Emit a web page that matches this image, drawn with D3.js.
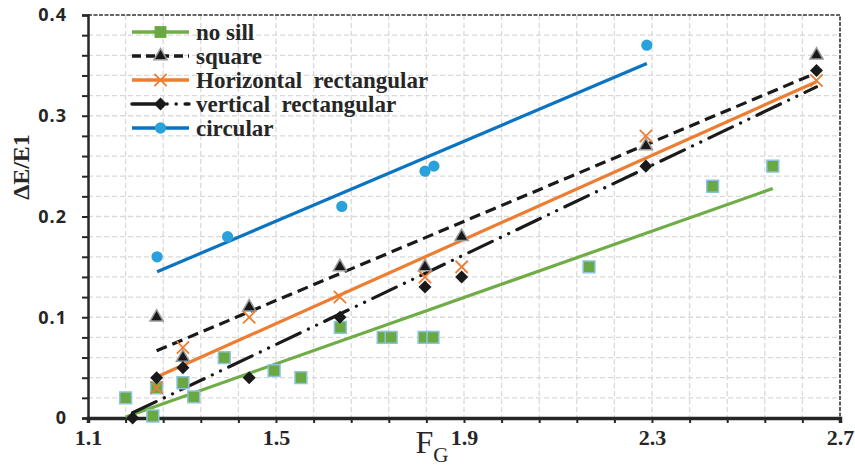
<!DOCTYPE html>
<html>
<head>
<meta charset="utf-8">
<script src="https://cdn.jsdelivr.net/npm/d3@7/dist/d3.min.js"></script>
<style>
  body { margin: 0; background: #fff; }
  svg text { fill: #262626; }
</style>
</head>
<body>
<div id="chart"></div>
<script>
/* global d3 */

// values
const fgNoSill = [1.18, 1.238, 1.246, 1.302, 1.325, 1.39, 1.496, 1.553, 1.637, 1.728, 1.745, 1.815, 1.834, 2.166, 2.429, 2.557]
const noSill = [0.02, 0.002, 0.03, 0.035, 0.021, 0.06, 0.047, 0.04, 0.09, 0.08, 0.08, 0.08, 0.08, 0.15, 0.23, 0.25]

const fgSquare = [1.246, 1.302, 1.443, 1.636, 1.817, 1.895, 2.287, 2.65]
const square = [0.10, 0.06, 0.11, 0.15, 0.15, 0.18, 0.27, 0.36]

const fgHoriz = [1.246, 1.302, 1.443, 1.636, 1.817, 1.895, 2.287, 2.65]
const horizRect = [0.03, 0.07, 0.10, 0.12, 0.14, 0.15, 0.28, 0.335]

const fgVert = [1.195, 1.246, 1.302, 1.443, 1.636, 1.817, 1.895, 2.287, 2.65]
const vertRect = [0, 0.04, 0.05, 0.04, 0.10, 0.13, 0.14, 0.25, 0.345]

const fgCircular = [1.247, 1.397, 1.64, 1.817, 1.836, 2.289]
const circular = [0.16, 0.18, 0.21, 0.245, 0.25, 0.37]

const seriesNames = ['no sill', 'square', 'Horizontal  rectangular', 'vertical  rectangular', 'circular']

const xTicks = [1.1, 1.5, 1.9, 2.3, 2.7]
const xTickLabels = ['1.1', '1.5', '1.9', '2.3', '2.7']
const yTicks = [0, 0.1, 0.2, 0.3, 0.4]
const yTickLabels = ['0', '0.1', '0.2', '0.3', '0.4']

// canvas
const width = 855,
  height = 468,
  plotLeft = 88,
  plotRight = 840,
  plotTop = 15,
  plotBottom = 418

const serif = '"Liberation Serif", "Times New Roman", serif'
const sans = '"Open Sans", "Liberation Sans", sans-serif'

let svg = d3.select('#chart')
  .append('svg')
  .attr('width', width)
  .attr('height', height)

const x = d3.scaleLinear().domain([1.1, 2.7]).range([plotLeft, plotRight])
const y = d3.scaleLinear().domain([0, 0.4]).range([plotBottom, plotTop])

// minor units: 0.08 on x, 0.02 on y
const xMinor = d3.range(0, 21).map(i => +(1.1 + i * 0.08).toFixed(2))
const yMinor = d3.range(0, 21).map(i => +(i * 0.02).toFixed(2))

// gridlines
svg.append('g').selectAll('line')
  .data(xMinor.slice(1, -1))
  .enter().append('line')
  .attr('x1', d => x(d)).attr('x2', d => x(d))
  .attr('y1', plotTop).attr('y2', plotBottom)
  .attr('stroke', '#d9d9d9').attr('stroke-width', 1.3)
  .attr('stroke-dasharray', '5,3')

svg.append('g').selectAll('line')
  .data(yMinor.slice(1, -1))
  .enter().append('line')
  .attr('x1', plotLeft).attr('x2', plotRight)
  .attr('y1', d => y(d)).attr('y2', d => y(d))
  .attr('stroke', '#d9d9d9').attr('stroke-width', 1.3)
  .attr('stroke-dasharray', '5,3')

// dashed frame top and right
svg.append('path')
  .attr('d', `M${plotLeft},${plotTop}H${plotRight}V${plotBottom}`)
  .attr('fill', 'none')
  .attr('stroke', '#333')
  .attr('stroke-width', 1.6)
  .attr('stroke-dasharray', '4,1.5')

let labelOf = (ticks, labels) => d => {
  let i = ticks.findIndex(v => Math.abs(v - d) < 1e-9)
  return i >= 0 ? labels[i] : ''
}

// axes
let xAxis = svg.append('g')
  .attr('transform', `translate(0, ${plotBottom})`)
  .style('color', '#262626')
  .call(d3.axisBottom(x).tickValues(xMinor).tickSize(5).tickPadding(6)
    .tickFormat(labelOf(xTicks, xTickLabels)))
xAxis.select('.domain').attr('stroke-width', 3.5)
xAxis.selectAll('.tick line').attr('stroke-width', 2)
xAxis.selectAll('text')
  .style('font-family', serif).style('font-weight', 'bold').style('font-size', '22px')

let yAxis = svg.append('g')
  .attr('transform', `translate(${plotLeft}, 0)`)
  .style('color', '#262626')
  .call(d3.axisLeft(y).tickValues(yMinor).tickSize(6).tickPadding(15)
    .tickFormat(labelOf(yTicks, yTickLabels)))
yAxis.select('.domain').attr('stroke-width', 2.5)
yAxis.selectAll('.tick line').attr('stroke-width', 2)
yAxis.selectAll('text')
  .style('font-family', sans).style('font-weight', 'bold').style('font-size', '18px')
  .style('letter-spacing', '1px')

// axis titles
svg.append('text')
  .attr('transform', 'translate(29, 167) rotate(-90)')
  .attr('text-anchor', 'middle')
  .style('font-family', serif).style('font-weight', 'bold').style('font-size', '24px')
  .text('ΔE/E1')

let fg = svg.append('text')
  .attr('x', 432).attr('y', 453)
  .attr('text-anchor', 'middle')
  .style('font-family', serif).style('font-size', '32px')
fg.append('tspan').text('F')
fg.append('tspan').attr('dy', 9).style('font-size', '21px').text('G')

// least squares trendline over the series x range
let trend = (xs, ys) => {
  let mx = d3.mean(xs), my = d3.mean(ys)
  let sxy = d3.sum(xs, (v, i) => (v - mx) * (ys[i] - my))
  let sxx = d3.sum(xs, v => (v - mx) * (v - mx))
  let b = sxy / sxx, a = my - b * mx
  let x0 = d3.min(xs), x1 = d3.max(xs)
  return [[x0, a + b * x0], [x1, a + b * x1]]
}

const series = [
  { name: seriesNames[0], xs: fgNoSill, ys: noSill, color: '#70ad47', dash: null,
    marker: d3.symbolSquare, size: 140, fill: '#6aa843', stroke: '#8cc4dc', sw: 1.5 },
  { name: seriesNames[1], xs: fgSquare, ys: square, color: '#1a1a1a', dash: '11,6',
    marker: d3.symbolTriangle, size: 75, fill: '#1a1a1a', stroke: '#9a9a9a', sw: 1.5 },
  { name: seriesNames[2], xs: fgHoriz, ys: horizRect, color: '#ed7d31', dash: null,
    marker: d3.symbolTimes, size: 100, fill: 'none', stroke: '#ed7d31', sw: 1.8 },
  { name: seriesNames[3], xs: fgVert, ys: vertRect, color: '#1a1a1a', dash: '26,9,0.1,9,0.1,9',
    marker: d3.symbolSquare, size: 85, fill: '#1a1a1a', stroke: 'none', sw: 0, rot: 45 },
  { name: seriesNames[4], xs: fgCircular, ys: circular, color: '#0a74c2', dash: null,
    marker: d3.symbolCircle, size: 100, fill: '#29a2dc', stroke: 'none', sw: 0 }
]

let line = d3.line().x(d => x(d[0])).y(d => y(d[1]))

series.forEach(s => {
  svg.append('path')
    .datum(trend(s.xs, s.ys))
    .attr('d', line)
    .attr('fill', 'none')
    .attr('stroke', s.color)
    .attr('stroke-width', 3.2)
    .attr('stroke-linecap', s.dash && s.dash.includes('0.1') ? 'round' : 'butt')
    .attr('stroke-dasharray', s.dash)
})

series.forEach(s => {
  svg.append('g').selectAll('path')
    .data(s.xs.map((v, i) => [v, s.ys[i]]))
    .enter().append('path')
    .attr('d', d3.symbol().type(s.marker).size(s.size))
    .attr('transform', d => `translate(${x(d[0])}, ${y(d[1])}) rotate(${s.rot || 0})`)
    .attr('fill', s.fill)
    .attr('stroke', s.stroke)
    .attr('stroke-width', s.sw)
})

// legend
let legend = svg.append('g')
series.forEach((s, i) => {
  let ly = 32 + i * 24
  legend.append('line')
    .attr('x1', 132).attr('x2', 189).attr('y1', ly).attr('y2', ly)
    .attr('stroke', s.color).attr('stroke-width', 3.5)
    .attr('stroke-linecap', s.dash && s.dash.includes('0.1') ? 'round' : 'butt')
    .attr('stroke-dasharray', s.dash ? (i === 1 ? '9,5' : s.dash) : null)
  legend.append('path')
    .attr('d', d3.symbol().type(s.marker).size(s.size))
    .attr('transform', `translate(160.5, ${ly}) rotate(${s.rot || 0})`)
    .attr('fill', s.fill)
    .attr('stroke', i === 0 ? 'none' : s.stroke)
    .attr('stroke-width', s.sw)
  legend.append('text')
    .attr('x', 196).attr('y', ly + 8)
    .attr('xml:space', 'preserve')
    .style('white-space', 'pre')
    .style('font-family', serif).style('font-weight', 'bold').style('font-size', '23px')
    .text(s.name)
})
</script>
</body>
</html>
